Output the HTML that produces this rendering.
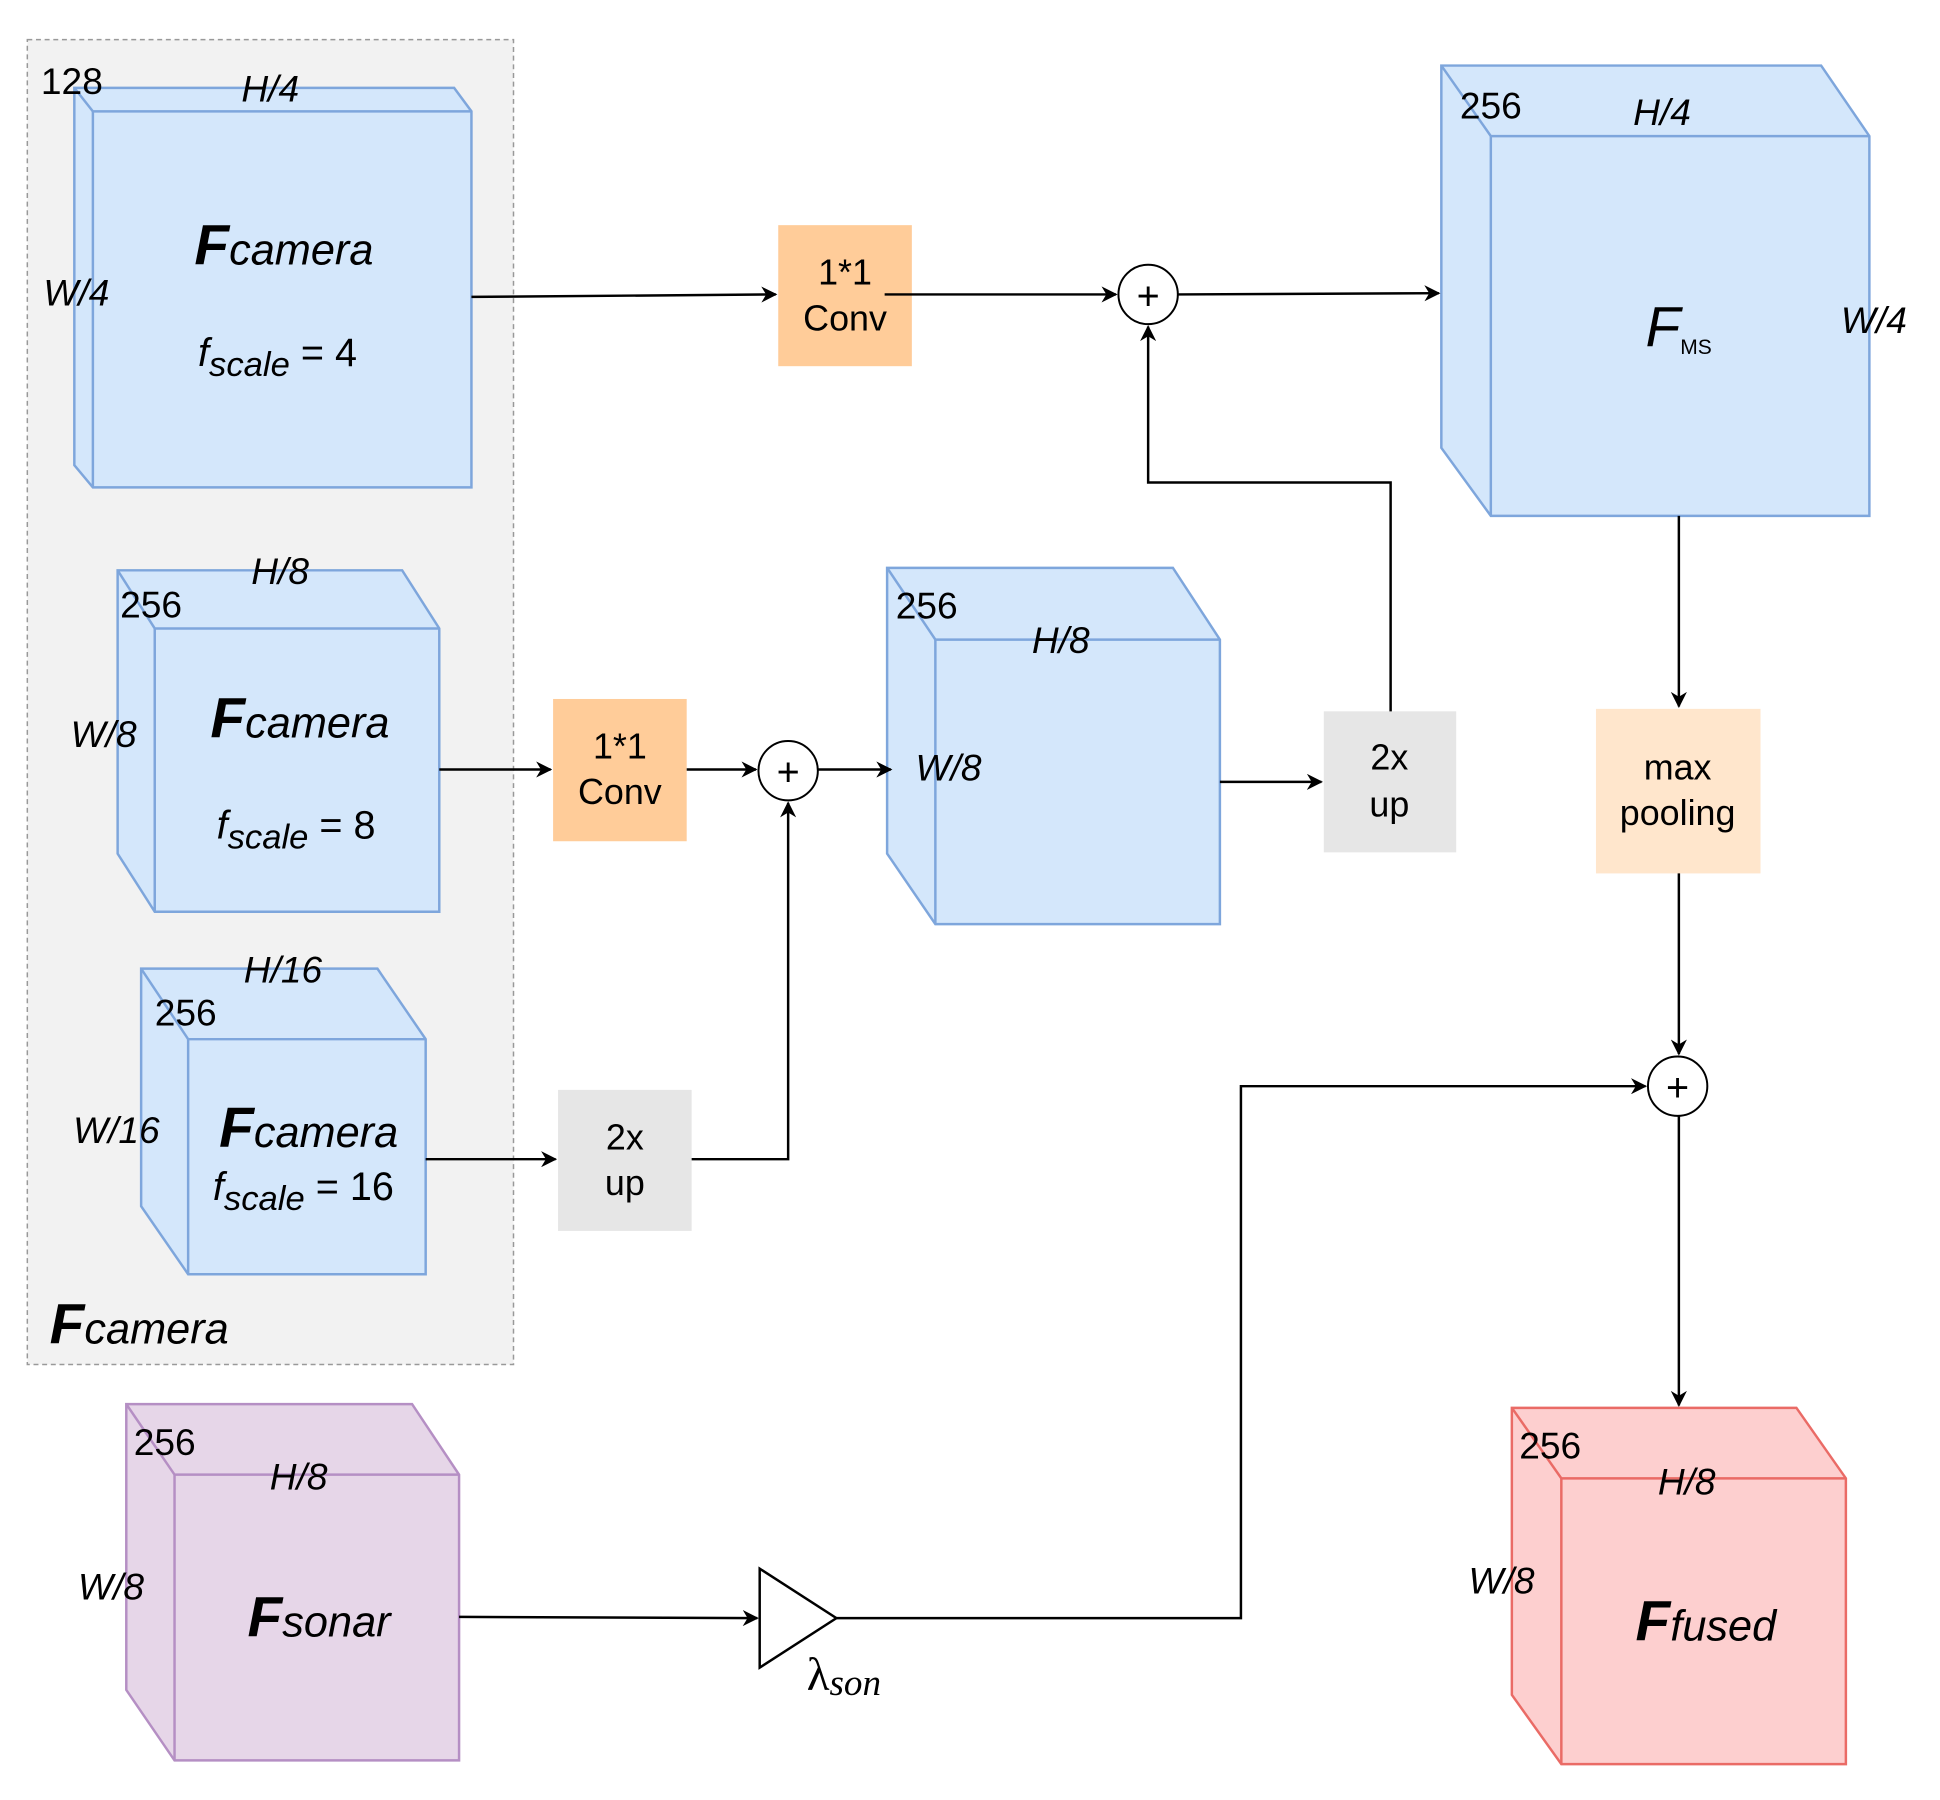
<!DOCTYPE html>
<html><head><meta charset="utf-8"><style>
html,body{margin:0;padding:0;background:#fff;}
svg{display:block;}
text{font-family:"Liberation Sans",sans-serif;fill:#000;}
.it{font-style:italic;}
</style></head><body>
<svg width="1940" height="1800" viewBox="0 0 1568 1455" xmlns="http://www.w3.org/2000/svg">
<defs>
<marker id="a" viewBox="0 0 10 10" refX="9" refY="5" markerWidth="13" markerHeight="13" markerUnits="userSpaceOnUse" orient="auto">
<path d="M0,0 L10,5 L0,10 L3,5 z" fill="#000"/></marker>
</defs>
<rect x="22" y="32" width="393" height="1071" fill="#f2f2f2" stroke="#999" stroke-width="1.2" stroke-dasharray="4,3"/>

<g fill="#d4e7fb" stroke="#7ea6dc" stroke-width="2">
<polygon points="60,71 367,71 381,90 381,394 75,394 60,376"/>
<polyline points="60,71 75,90 381,90" fill="none"/><line x1="75" y1="90" x2="75" y2="394"/>
<polygon points="95,461 325,461 355,508 355,737 125,737 95,690"/>
<polyline points="95,461 125,508 355,508" fill="none"/><line x1="125" y1="508" x2="125" y2="737"/>
<polygon points="114,783 305,783 344,840 344,1030 152,1030 114,975"/>
<polyline points="114,783 152,840 344,840" fill="none"/><line x1="152" y1="840" x2="152" y2="1030"/>
<polygon points="1165,53 1472,53 1511,110 1511,417 1205,417 1165,362"/>
<polyline points="1165,53 1205,110 1511,110" fill="none"/><line x1="1205" y1="110" x2="1205" y2="417"/>
<polygon points="717,459 948,459 986,517 986,747 756,747 717,690"/>
<polyline points="717,459 756,517 986,517" fill="none"/><line x1="756" y1="517" x2="756" y2="747"/>
</g>
<g fill="#e6d6e8" stroke="#b58fc4" stroke-width="2">
<polygon points="102,1135 333,1135 371,1192 371,1423 141,1423 102,1366"/>
<polyline points="102,1135 141,1192 371,1192" fill="none"/><line x1="141" y1="1192" x2="141" y2="1423"/>
</g>
<g fill="#fdcfcf" stroke="#ea6b66" stroke-width="2">
<polygon points="1222,1138 1452,1138 1492,1195 1492,1426 1262,1426 1222,1370"/>
<polyline points="1222,1138 1262,1195 1492,1195" fill="none"/><line x1="1262" y1="1195" x2="1262" y2="1426"/>
</g>

<rect x="629" y="182" width="108" height="114" fill="#ffcc99"/>
<rect x="447" y="565" width="108" height="115" fill="#ffcc99"/>
<rect x="451" y="881" width="108" height="114" fill="#e6e6e6"/>
<rect x="1070" y="575" width="107" height="114" fill="#e6e6e6"/>
<rect x="1290" y="573" width="133" height="133" fill="#ffe6cc"/>

<g stroke="#000" stroke-width="2" fill="none">
<line x1="381" y1="240" x2="627" y2="238" marker-end="url(#a)"/>
<line x1="715" y1="238" x2="902" y2="238" marker-end="url(#a)"/>
<line x1="952" y1="238" x2="1163" y2="237" marker-end="url(#a)"/>
<polyline points="1124,575 1124,390 928,390 928,264" marker-end="url(#a)"/>
<line x1="355" y1="622" x2="445" y2="622" marker-end="url(#a)"/>
<line x1="555" y1="622" x2="611" y2="622" marker-end="url(#a)"/>
<line x1="661" y1="622" x2="720" y2="622" marker-end="url(#a)"/>
<line x1="344" y1="937" x2="449" y2="937" marker-end="url(#a)"/>
<polyline points="559,937 637,937 637,649" marker-end="url(#a)"/>
<line x1="986" y1="632" x2="1068" y2="632" marker-end="url(#a)"/>
<line x1="1357" y1="417" x2="1357" y2="571" marker-end="url(#a)"/>
<line x1="1357" y1="706" x2="1357" y2="852" marker-end="url(#a)"/>
<line x1="371" y1="1307" x2="612" y2="1308" marker-end="url(#a)"/>
<polyline points="676,1308 1003,1308 1003,878 1330,878" marker-end="url(#a)"/>
<line x1="1357" y1="902" x2="1357" y2="1136" marker-end="url(#a)"/>
<polygon points="614,1268 614,1348 676,1308" fill="#fff"/>
</g>
<g stroke="#000" stroke-width="1.6" fill="#fff">
<circle cx="928" cy="238" r="24"/><circle cx="637" cy="623" r="24"/><circle cx="1356" cy="878" r="24"/>
</g>
<g font-size="32" text-anchor="middle">
<text x="928" y="250">+</text><text x="637" y="635">+</text><text x="1356" y="890">+</text>
</g>

<g font-size="29" text-anchor="middle">
<text x="683" y="230">1*1</text><text x="683" y="267">Conv</text>
<text x="501" y="613">1*1</text><text x="501" y="650">Conv</text>
<text x="505" y="929">2x</text><text x="505" y="966">up</text>
<text x="1123" y="622">2x</text><text x="1123" y="660">up</text>
<text x="1356" y="630">max</text><text x="1356" y="667">pooling</text>
</g>

<g font-size="30">
<text x="33" y="76">128</text>
<text x="97" y="499">256</text>
<text x="125" y="829">256</text>
<text x="1180" y="96">256</text>
<text x="724" y="500">256</text>
<text x="108" y="1176">256</text>
<text x="1228" y="1179">256</text>
</g>
<g font-size="30">
<text x="195" y="82" class="it">H/4</text>
<text x="35" y="247" class="it">W/4</text>
<text x="203" y="472" class="it">H/8</text>
<text x="57" y="604" class="it">W/8</text>
<text x="197" y="794" class="it">H/16</text>
<text x="59" y="924" class="it">W/16</text>
<text x="1320" y="101" class="it">H/4</text>
<text x="1488" y="269" class="it">W/4</text>
<text x="834" y="528" class="it">H/8</text>
<text x="740" y="631" class="it">W/8</text>
<text x="218" y="1204" class="it">H/8</text>
<text x="63" y="1293" class="it">W/8</text>
<text x="1340" y="1208" class="it">H/8</text>
<text x="1187" y="1288" class="it">W/8</text>
</g>

<g>
<text x="157" y="214" class="it"><tspan font-size="46" font-weight="bold">F</tspan><tspan font-size="35">camera</tspan></text>
<text x="160" y="296" class="it" font-size="32">f<tspan font-size="28" dy="8">scale</tspan><tspan dy="-8" font-style="normal"> = 4</tspan></text>
<text x="170" y="596" class="it"><tspan font-size="46" font-weight="bold">F</tspan><tspan font-size="35">camera</tspan></text>
<text x="175" y="678" class="it" font-size="32">f<tspan font-size="28" dy="8">scale</tspan><tspan dy="-8" font-style="normal"> = 8</tspan></text>
<text x="177" y="927" class="it"><tspan font-size="46" font-weight="bold">F</tspan><tspan font-size="35">camera</tspan></text>
<text x="172" y="970" class="it" font-size="32">f<tspan font-size="28" dy="8">scale</tspan><tspan dy="-8" font-style="normal"> = 16</tspan></text>
<text x="40" y="1086" class="it"><tspan font-size="46" font-weight="bold">F</tspan><tspan font-size="35">camera</tspan></text>
<text x="200" y="1323" class="it"><tspan font-size="46" font-weight="bold">F</tspan><tspan font-size="35">sonar</tspan></text>
<text x="1322" y="1326" class="it"><tspan font-size="46" font-weight="bold">F</tspan><tspan font-size="35">fused</tspan></text>
<text x="1330" y="280" class="it" font-size="46">F<tspan font-size="17" font-style="normal" dy="6">MS</tspan></text>
</g>
<text x="652" y="1366" font-size="38" style="font-family:'Liberation Serif',serif">λ<tspan font-style="italic" font-size="30" dy="4">son</tspan></text>
</svg>
</body></html>
